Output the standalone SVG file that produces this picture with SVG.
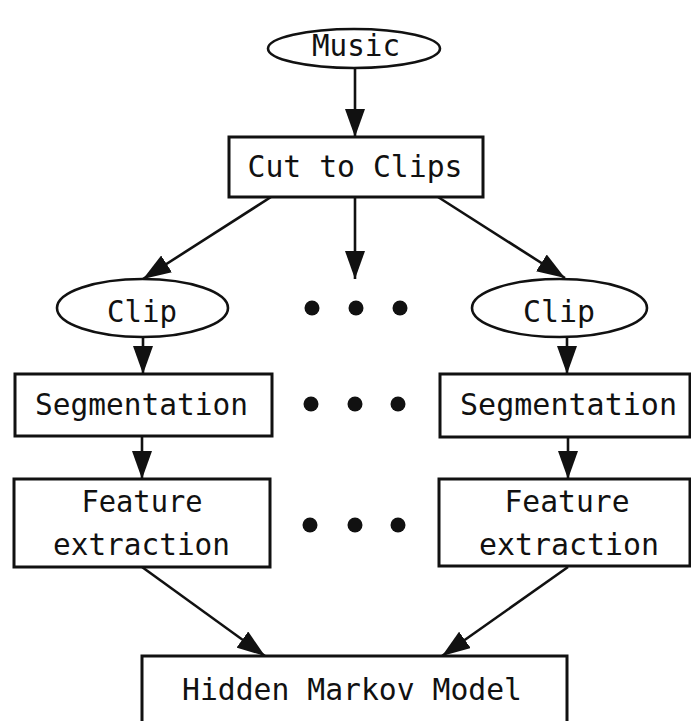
<svg xmlns="http://www.w3.org/2000/svg" width="691" height="721" viewBox="0 0 691 721">
  <style>
    .node { fill: #ffffff; stroke: #111111; stroke-width: 3; }
    .oval { fill: #ffffff; stroke: #111111; stroke-width: 2.6; }
    .label { font-family: "DejaVu Sans Mono", "Liberation Mono", monospace; font-size: 29.5px; fill: #111111; text-anchor: middle; }
    .edge { fill: none; stroke: #111111; stroke-width: 2.6; marker-end: url(#arrow); }
    .dot { fill: #111111; }
  </style>
  <defs>
    <marker id="arrow" markerUnits="userSpaceOnUse" markerWidth="28" markerHeight="20" refX="28" refY="10" orient="auto">
      <path d="M0,0 L28,10 L0,20 z" fill="#111111"/>
    </marker>
  </defs>
  <rect width="691" height="721" fill="#ffffff"/>

  <!-- connectors -->
  <g id="connectors">
    <line class="edge" x1="355" y1="68" x2="355" y2="137"/>
    <line class="edge" x1="271" y1="197" x2="143" y2="279"/>
    <line class="edge" x1="355" y1="197" x2="355" y2="279"/>
    <line class="edge" x1="438" y1="197" x2="565" y2="278"/>
    <line class="edge" x1="143" y1="337" x2="143" y2="374"/>
    <line class="edge" x1="567" y1="337" x2="567" y2="374"/>
    <line class="edge" x1="142" y1="436" x2="142" y2="479"/>
    <line class="edge" x1="568" y1="437" x2="568" y2="479"/>
    <line class="edge" x1="142" y1="567" x2="265" y2="656"/>
    <line class="edge" x1="568" y1="567" x2="442" y2="656"/>
  </g>

  <!-- elided parallel branches -->
  <g id="ellipsis">
    <circle class="dot" cx="312" cy="308" r="7.5"/>
    <circle class="dot" cx="356" cy="308" r="7.5"/>
    <circle class="dot" cx="400" cy="308" r="7.5"/>
    <circle class="dot" cx="311" cy="404" r="7.5"/>
    <circle class="dot" cx="355" cy="404" r="7.5"/>
    <circle class="dot" cx="398" cy="404" r="7.5"/>
    <circle class="dot" cx="310" cy="525" r="7.5"/>
    <circle class="dot" cx="355" cy="525" r="7.5"/>
    <circle class="dot" cx="398" cy="525" r="7.5"/>
  </g>

  <g id="music">
    <ellipse class="oval" cx="354" cy="48.5" rx="86" ry="19.5"/>
    <text class="label" x="356" y="56" textLength="88" lengthAdjust="spacingAndGlyphs">Music</text>
  </g>

  <g id="cut-to-clips">
    <rect class="node" x="229" y="137" width="254" height="60"/>
    <text class="label" x="355" y="177" textLength="215" lengthAdjust="spacingAndGlyphs">Cut to Clips</text>
  </g>

  <g id="clip-left">
    <ellipse class="oval" cx="142.5" cy="308" rx="85.5" ry="29"/>
    <text class="label" x="142" y="322" textLength="70" lengthAdjust="spacingAndGlyphs">Clip</text>
  </g>

  <g id="clip-right">
    <ellipse class="oval" cx="559.5" cy="308" rx="87.5" ry="29"/>
    <text class="label" x="559" y="322" textLength="72" lengthAdjust="spacingAndGlyphs">Clip</text>
  </g>

  <g id="segmentation-left">
    <rect class="node" x="15" y="374" width="257" height="62"/>
    <text class="label" x="141.5" y="415" textLength="213" lengthAdjust="spacingAndGlyphs">Segmentation</text>
  </g>

  <g id="segmentation-right">
    <rect class="node" x="440" y="374" width="250" height="63"/>
    <text class="label" x="568.5" y="415" textLength="217" lengthAdjust="spacingAndGlyphs">Segmentation</text>
  </g>

  <g id="feature-left">
    <rect class="node" x="14" y="479" width="256" height="88"/>
    <text class="label" x="142" y="512" textLength="121" lengthAdjust="spacingAndGlyphs">Feature</text>
    <text class="label" x="141.5" y="555" textLength="177" lengthAdjust="spacingAndGlyphs">extraction</text>
  </g>

  <g id="feature-right">
    <rect class="node" x="439" y="479" width="251" height="87"/>
    <text class="label" x="567" y="512" textLength="125" lengthAdjust="spacingAndGlyphs">Feature</text>
    <text class="label" x="569" y="555" textLength="180" lengthAdjust="spacingAndGlyphs">extraction</text>
  </g>

  <g id="hidden-markov-model">
    <rect class="node" x="142" y="656" width="425" height="90"/>
    <text class="label" x="352" y="700" textLength="340" lengthAdjust="spacingAndGlyphs">Hidden Markov Model</text>
  </g>
</svg>
